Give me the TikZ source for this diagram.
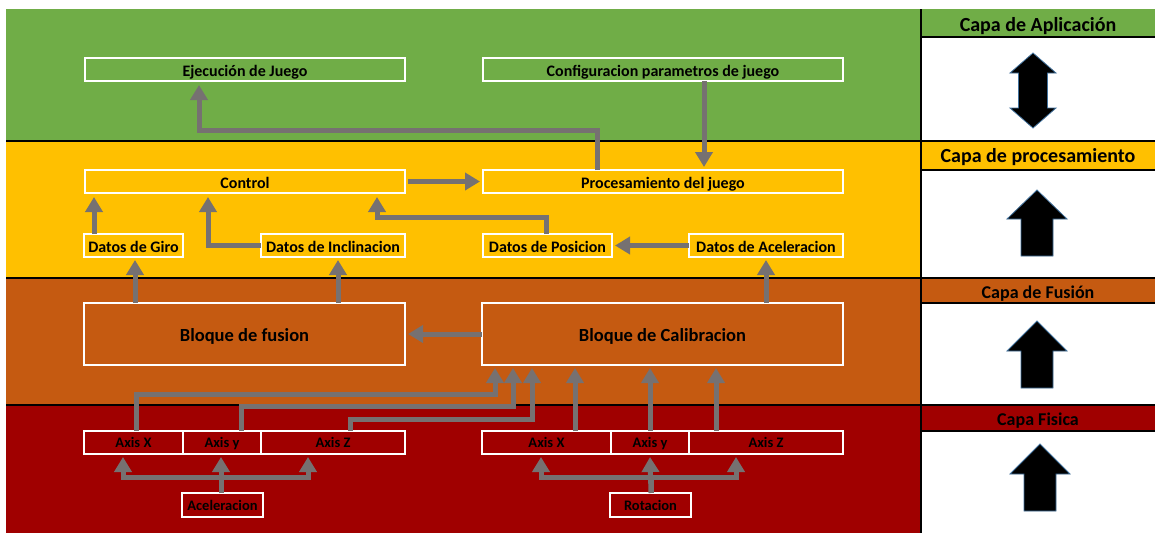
\documentclass[tikz,border=0pt]{standalone}
\usepackage{fontspec}
\setmainfont{Carlito}
\usetikzlibrary{arrows.meta}
\definecolor{capaApp}{HTML}{70AD47}
\definecolor{capaProc}{HTML}{FFC000}
\definecolor{capaFus}{HTML}{C55A11}
\definecolor{capaFis}{HTML}{A00000}
\definecolor{conector}{HTML}{767171}
\definecolor{bordeFlecha}{HTML}{41719C}
\begin{document}
\begin{tikzpicture}[x=1pt,y=-1pt,
  caja/.style={draw=white,line width=2.2pt,outer sep=0pt,inner sep=0pt,
    text=black,minimum height=23pt,text height=14pt,text depth=1pt,
    font=\fontsize{16}{19}\selectfont\bfseries},
  cajasup/.style={caja,font=\fontsize{16}{19}\selectfont\bfseries},
  cajaeje/.style={caja,text height=12pt,text depth=1.5pt,
    font=\fontsize{14.5}{17}\selectfont\bfseries},
  bloque/.style={caja,minimum height=62pt,text height=15pt,text depth=1pt,
    font=\fontsize{18.5}{22}\selectfont\bfseries},
  titulo/.style={inner sep=0pt,text=black,text height=14pt,text depth=1pt,
    font=\fontsize{20}{24}\selectfont\bfseries},
  titulochico/.style={titulo,text height=15pt,text depth=1pt,
    font=\fontsize{18}{22}\selectfont\bfseries},
  conn/.style={draw=conector,line width=5pt,line join=miter,line cap=butt},
  flecha/.style={conn,-{Triangle[width=17pt,length=15pt]}},
  separa/.style={draw=black,line width=1.8pt},
  bloqueflecha/.style={fill=black,draw=bordeFlecha,line width=0.8pt,line join=miter}
]
\useasboundingbox (0,0) rectangle (1155,533);
\fill[white] (0,0) rectangle (1155,533);

% layer bands
\fill[capaApp]  (6,9)   rectangle (921,141);
\fill[capaProc] (6,141) rectangle (921,278);
\fill[capaFus]  (6,278) rectangle (921,405);
\fill[capaFis]  (6,405) rectangle (921,533);

% right column headers
\fill[capaApp]  (921,9)   rectangle (1155,37);
\fill[capaProc] (921,141) rectangle (1155,170);
\fill[capaFus]  (921,278) rectangle (1155,303);
\fill[capaFis]  (921,405) rectangle (1155,431);

% separating lines
\draw[separa] (6,141) -- (1155,141);
\draw[separa] (6,278) -- (1155,278);
\draw[separa] (6,405) -- (1155,405);
\draw[separa] (921,37) -- (1155,37);
\draw[separa] (921,170) -- (1155,170);
\draw[separa] (921,303) -- (1155,303);
\draw[separa] (921,431) -- (1155,431);
\draw[separa] (921,9) -- (921,533);

% layer titles
\node[titulo] (tApp) at (1038,25) {Capa de Aplicación};
\node[titulo] (tProc) at (1038,155.5) {Capa de procesamiento};
\node[titulochico] (tFus) at (1038,291) {Capa de Fusión};
\node[titulochico] (tFis) at (1038,418) {Capa Fisica};

% block arrows of the right column
\path[bloqueflecha] (1033,53) -- (1056,73) -- (1047.5,73) -- (1047.5,108) -- (1056,108)
  -- (1033,128) -- (1010,108) -- (1018.5,108) -- (1018.5,73) -- (1010,73) -- cycle;
\path[bloqueflecha] (1037,190) -- (1067,219) -- (1053,219) -- (1053,256) -- (1021,256)
  -- (1021,219) -- (1007,219) -- cycle;
\path[bloqueflecha] (1037,321) -- (1067,351) -- (1053,351) -- (1053,388) -- (1021,388)
  -- (1021,351) -- (1007,351) -- cycle;
\path[bloqueflecha] (1040,444) -- (1070,474) -- (1056,474) -- (1056,511) -- (1024,511)
  -- (1024,474) -- (1010,474) -- cycle;

% application layer
\node[cajasup,minimum width=320pt] (ejec) at (245,69.5) {Ejecución de Juego};
\node[cajasup,minimum width=360pt] (config) at (663,69.5) {Configuracion parametros de juego};

% processing layer
\node[caja,minimum width=320pt] (control) at (245,181.5) {Control};
\node[caja,minimum width=360pt] (proc) at (663,181.5) {Procesamiento del juego};
\node[caja,minimum width=99pt] (giro) at (133.5,245.5) {Datos de Giro};
\node[caja,minimum width=144pt] (incl) at (333,245.5) {Datos de Inclinacion};
\node[caja,minimum width=129pt] (pos) at (547.5,245.5) {Datos de Posicion};
\node[caja,minimum width=154pt] (acel) at (766,245.5) {Datos de Aceleracion};

% fusion layer
\node[bloque,minimum width=321pt] (fusion) at (244.5,334) {Bloque de fusion};
\node[bloque,minimum width=361pt] (calib) at (662.5,334) {Bloque de Calibracion};

% physical layer
\node[cajaeje,minimum width=99pt] (lax) at (133.5,442.5) {Axis X};
\node[cajaeje,minimum width=78pt] (lay) at (222,442.5) {Axis y};
\node[cajaeje,minimum width=144pt] (laz) at (333,442.5) {Axis Z};
\node[cajaeje,minimum width=81pt,minimum height=24pt] (ace) at (222.5,505) {Aceleracion};
\node[cajaeje,minimum width=129pt] (rax) at (546.5,442.5) {Axis X};
\node[cajaeje,minimum width=78pt] (ray) at (650,442.5) {Axis y};
\node[cajaeje,minimum width=154pt] (raz) at (766,442.5) {Axis Z};
\node[cajaeje,minimum width=81pt,minimum height=24pt] (rot) at (650.5,505) {Rotacion};

% connectors: application and processing
\draw[flecha] ([shift={(-66,0)}]proc.north) |- ([shift={(-46,49)}]ejec.south)
  -- ([shift={(-46,4)}]ejec.south);
\draw[flecha] ([shift={(41,0)}]config.south) -- ([shift={(41,-3)}]proc.north);
\draw[flecha] ([shift={(3,0)}]control.east) -- ([shift={(-3,0)}]proc.west);
\draw[flecha] ([shift={(-1.5,0)}]pos.north) |- ([shift={(132,24)}]control.south)
  -- ([shift={(132,4)}]control.south);
\draw[flecha] (incl.west) -| ([shift={(-37,4)}]control.south);
\draw[flecha] ([shift={(-39.5,0)}]giro.north) -- ([shift={(-151,4)}]control.south);
\draw[flecha] (acel.west) -- ([shift={(3,0)}]pos.east);

% connectors: fusion layer
\draw[flecha] ([shift={(-109.5,0)}]fusion.north) -- ([shift={(1.5,3)}]giro.south);
\draw[flecha] ([shift={(93.5,0)}]fusion.north) -- ([shift={(5,3)}]incl.south);
\draw[flecha] ([shift={(103.5,0)}]calib.north) -- ([shift={(0,3)}]acel.south);
\draw[flecha] (calib.west) -- ([shift={(3,0)}]fusion.east);

% connectors: accelerometer axes to calibration
\draw[flecha] ([shift={(2.5,0)}]lax.north) |- ([shift={(-167.5,29)}]calib.south)
  -- ([shift={(-167.5,3)}]calib.south);
\draw[flecha] ([shift={(19,0)}]lay.north) |- ([shift={(-149.5,41)}]calib.south)
  -- ([shift={(-149.5,3)}]calib.south);
\draw[flecha] ([shift={(17,0)}]laz.north) |- ([shift={(-130.5,54)}]calib.south)
  -- ([shift={(-130.5,3)}]calib.south);

% connectors: gyroscope axes to calibration
\draw[flecha] ([shift={(28.5,0)}]rax.north) -- ([shift={(-87.5,3)}]calib.south);
\draw[flecha] (ray.north) -- ([shift={(-12.5,3)}]calib.south);
\draw[flecha] ([shift={(-50,0)}]raz.north) -- ([shift={(53.5,3)}]calib.south);

% connectors: sensors to their axes
\draw[flecha] ([shift={(-1.5,0)}]ace.north) |- ([shift={(-10.5,23)}]lax.south)
  -- ([shift={(-10.5,3)}]lax.south);
\draw[flecha] ([shift={(-1.5,0)}]ace.north) |- ([shift={(-25,23)}]laz.south)
  -- ([shift={(-25,3)}]laz.south);
\draw[flecha] ([shift={(-1.5,0)}]ace.north) -- ([shift={(-1,3)}]lay.south);
\draw[flecha] ([shift={(0.5,0)}]rot.north) |- ([shift={(-5.5,23)}]rax.south)
  -- ([shift={(-5.5,3)}]rax.south);
\draw[flecha] ([shift={(0.5,0)}]rot.north) |- ([shift={(-30,23)}]raz.south)
  -- ([shift={(-30,3)}]raz.south);
\draw[flecha] ([shift={(0.5,0)}]rot.north) -- ([shift={(0,3)}]ray.south);
\end{tikzpicture}
\end{document}
